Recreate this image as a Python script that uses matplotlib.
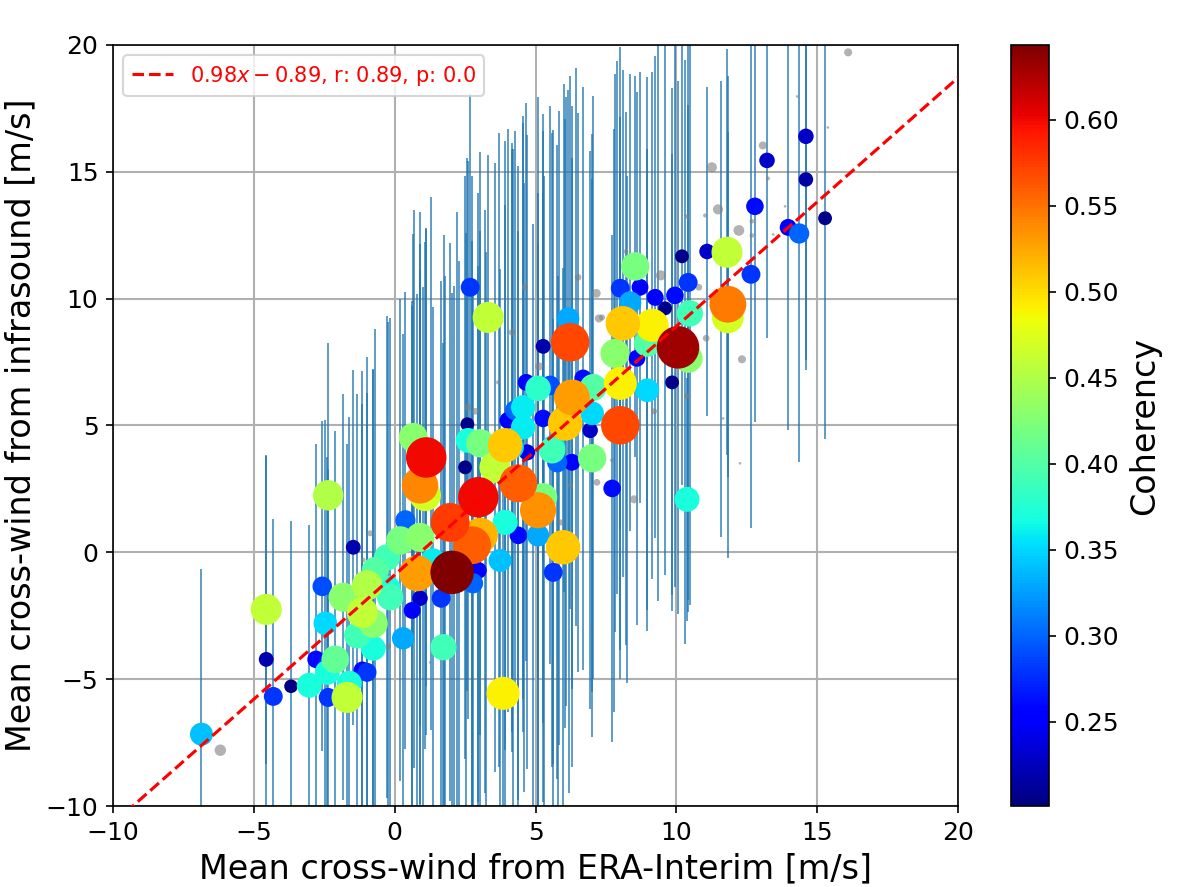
import numpy as np
import matplotlib
matplotlib.use("Agg")
import matplotlib.pyplot as plt

# ---- coloured points (coherency above threshold) ----
era_x = [-6.86, -4.56, -4.56, -4.31, -3.68, -3.03, -2.57, -2.46, -2.36, -2.79,
         -2.11, -2.39, -2.36, -1.69, -1.61, -0.98, -1.15, -1.47, -1.83, -0.98,
         -1.15, -0.76, -1.33, -0.76, -0.69, -0.16, 0.30, 0.62, 0.90, 0.80,
         1.73, 1.65, 2.04, 0.20, 0.38, 0.90, -0.23, 2.78, 2.97, -0.27,
         1.12, 0.90, 1.08, 0.66, 2.97, 1.97, 2.75, 3.04, 4.39, 5.09,
         3.74, 4.39, 3.92, 5.09, 5.63, 5.98, 3.92, 2.50, 5.59, 3.56,
         5.27, 3.04, 2.61, 6.29, 5.77, 7.01, 7.72, 10.38, 4.17, 4.70,
         2.68, 3.32, 5.27, 2.58, 4.67, 5.52, 5.09, 4.56, 4.28, 4.02,
         5.27, 4.56, 5.63, 6.23, 8.10, 9.14, 10.06, 10.48, 11.83, 11.83,
         7.82, 8.60, 8.97, 8.01, 8.97, 9.85, 6.29, 8.01, 6.05, 7.05,
         6.16, 8.01, 8.71, 9.25, 9.95, 9.60, 10.42, 7.01, 6.69, 6.94,
         10.42, 8.36, 8.54, 10.20, 11.09, 11.80, 12.65, 12.79, 13.97, 14.36,
         15.28, 13.22, 14.60, 14.60, 3.85, 1.36,
         # points mostly hidden under larger markers (visible through their bars)
         1.80, 2.30, 2.10, 0.90, 1.30, 1.10, 0.70, 2.75, 3.20, 1.75,
         2.20, 2.55, 3.25, 4.20, 4.60, 4.90, 5.30, 5.80, 6.20, 3.70,
         4.15, 0.60, 1.00, 6.00, 6.45, 7.90, 9.35, 9.85, 10.30, 11.60,
         6.10, 6.50, 7.80, 8.25, 5.85, 8.20]
infra_y = [-7.17, -2.25, -4.22, -5.68, -5.28, -5.24, -1.34, -2.80, 2.25, -4.22,
           -4.22, -4.73, -5.72, -5.72, -5.16, -4.73, -4.65, 0.20, -1.77, -1.30,
           -2.37, -2.80, -3.27, -3.78, -0.71, -1.77, -3.39, -2.29, -1.81, -0.83,
           -3.74, -1.81, -0.79, 0.47, 1.26, 0.59, -1.42, -1.22, -0.71, -0.20,
           3.74, 2.64, 2.25, 4.53, 2.17, 1.18, 0.28, 0.67, 2.72, 1.66,
           -0.32, 0.67, 1.18, 0.67, -0.79, 0.20, 4.22, 3.35, 4.02, 3.35,
           2.17, 4.30, 4.41, 3.55, 3.55, 3.71, 2.52, 2.09, 4.14, 3.94,
           10.45, 9.26, 8.12, 5.05, 6.70, 6.58, 6.46, 5.72, 5.60, 5.20,
           5.28, 4.93, 4.14, 8.28, 9.03, 8.95, 8.08, 9.42, 9.78, 9.26,
           7.84, 7.65, 8.24, 6.66, 6.39, 6.70, 6.11, 5.01, 5.08, 6.50,
           9.22, 10.41, 10.45, 10.05, 10.13, 9.62, 10.64, 5.48, 6.86, 4.81,
           7.65, 9.85, 11.27, 11.67, 11.86, 11.83, 10.96, 13.64, 12.81, 12.57,
           13.17, 15.45, 16.40, 14.70, -5.56, -0.32,
           -0.60, -1.00, -0.50, 3.90, 3.50, 2.80, 2.50, 2.35, 2.00, 1.00,
           1.40, 0.10, 0.85, 2.90, 2.55, 1.45, 1.85, 0.40, 0.00, 4.05,
           4.40, -0.60, -1.05, 8.45, 8.10, 8.85, 9.10, 8.30, 7.90, 9.60,
           5.95, 6.30, 5.20, 4.85, 4.90, 6.85]
coherency = [0.34, 0.46, 0.22, 0.28, 0.201, 0.37, 0.29, 0.35, 0.45, 0.26,
             0.41, 0.37, 0.28, 0.46, 0.37, 0.28, 0.26, 0.22, 0.43, 0.45,
             0.46, 0.43, 0.39, 0.37, 0.40, 0.39, 0.33, 0.25, 0.23, 0.53,
             0.39, 0.28, 0.6435, 0.42, 0.30, 0.43, 0.37, 0.30, 0.25, 0.39,
             0.60, 0.54, 0.47, 0.43, 0.60, 0.575, 0.56, 0.52, 0.56, 0.535,
             0.34, 0.26, 0.37, 0.33, 0.28, 0.51, 0.51, 0.205, 0.39, 0.46,
             0.42, 0.42, 0.37, 0.25, 0.30, 0.42, 0.26, 0.37, 0.35, 0.24,
             0.28, 0.46, 0.22, 0.205, 0.25, 0.29, 0.38, 0.36, 0.30, 0.25,
             0.26, 0.36, 0.36, 0.57, 0.51, 0.49, 0.63, 0.39, 0.545, 0.47,
             0.43, 0.25, 0.40, 0.49, 0.35, 0.205, 0.53, 0.57, 0.51, 0.40,
             0.33, 0.28, 0.25, 0.25, 0.26, 0.205, 0.28, 0.35, 0.26, 0.23,
             0.43, 0.33, 0.42, 0.205, 0.23, 0.46, 0.28, 0.26, 0.25, 0.30,
             0.205, 0.23, 0.23, 0.215, 0.49, 0.36,
             0.24, 0.26, 0.27, 0.25, 0.27, 0.24, 0.26, 0.25, 0.24, 0.26,
             0.25, 0.27, 0.24, 0.26, 0.25, 0.24, 0.27, 0.25, 0.26, 0.24,
             0.26, 0.25, 0.27, 0.24, 0.26, 0.25, 0.24, 0.25, 0.24, 0.24,
             0.26, 0.25, 0.25, 0.24, 0.26, 0.24]
infra_err = [6.5, 6.1, 8.0, 7.0, 6.5, 6.3, 6.5, 8.0, 6.0, 8.5,
             9.0, 8.5, 9.0, 10.0, 10.5, 11.0, 10.5, 7.0, 8.0, 9.0,
             9.5, 10.0, 9.5, 11.0, 9.5, 11.0, 12.0, 12.0, 12.0, 11.0,
             12.0, 12.5, 11.0, 9.5, 9.0, 10.5, 10.5, 12.0, 12.0, 9.5,
             9.0, 9.5, 10.0, 8.0, 12.0, 11.0, 12.0, 12.0, 12.5, 12.5,
             11.5, 12.0, 12.5, 11.5, 10.0, 11.0, 12.0, 11.5, 12.5, 12.0,
             12.0, 11.5, 11.0, 12.0, 12.5, 11.0, 10.0, 4.8, 12.0, 12.5,
             7.6, 6.4, 8.5, 10.5, 11.0, 11.0, 11.5, 11.5, 11.0, 11.5,
             12.0, 12.0, 12.5, 10.5, 10.0, 10.0, 10.5, 11.5, 6.8, 9.5,
             11.0, 10.5, 10.5, 10.5, 9.5, 9.0, 11.5, 10.0, 12.0, 11.5,
             9.0, 9.5, 8.5, 9.5, 11.5, 10.5, 12.5, 11.0, 11.5, 11.0,
             10.0, 9.0, 7.5, 9.0, 6.5, 8.0, 10.0, 8.5, 8.0, 9.0,
             8.7, 7.0, 8.8, 7.5, 8.0, 10.0,
             11.5, 12.5, 11.0, 9.5, 10.5, 10.0, 11.0, 12.5, 11.5, 11.5,
             12.0, 12.5, 11.0, 13.0, 12.0, 11.5, 13.0, 10.5, 9.5, 12.5,
             11.5, 10.5, 11.5, 10.0, 11.0, 10.5, 11.0, 10.0, 11.5, 9.0,
             12.0, 11.0, 11.5, 10.0, 12.5, 10.5]

# ---- grey points (coherency below threshold) ----
grey_x = [-6.19, 16.10, 13.07, 11.26, 11.48, 12.22, 11.02, 14.29, 15.38, 13.86,
          13.25, 12.68, 12.68, 13.44, 8.21, 10.38, 9.45, 7.16, 6.51, 7.25,
          4.17, 10.80, 11.06, 12.33, 4.63, 5.13, 10.38, 9.21, 7.18, 8.50,
          5.91, 6.23, 7.72, 6.29, 2.61, 2.86, 3.67, -0.23, 1.26, -0.87,
          -1.12, -2.50, 12.26, 11.66, 7.36, 2.36]
grey_y = [-7.80, 19.71, 16.04, 15.18, 13.52, 12.69, 13.28, 17.97, 16.75, 13.64,
          14.74, 13.05, 12.49, 12.53, 11.86, 13.24, 10.92, 10.21, 10.84, 9.22,
          8.67, 10.45, 8.44, 7.61, 10.45, 7.33, 6.15, 5.56, 2.76, 2.09,
          1.18, 2.64, 3.63, -1.77, 5.72, 5.56, 6.70, -3.70, -4.34, 0.75,
          -0.30, -3.31, 3.51, 5.28, 9.26, 2.40]
grey_coh = [0.17, 0.12, 0.12, 0.15, 0.15, 0.16, 0.06, 0.04, 0.04, 0.04,
            0.06, 0.07, 0.07, 0.04, 0.07, 0.07, 0.15, 0.13, 0.10, 0.12,
            0.10, 0.10, 0.10, 0.12, 0.09, 0.12, 0.09, 0.09, 0.10, 0.12,
            0.09, 0.07, 0.06, 0.04, 0.10, 0.10, 0.06, 0.09, 0.04, 0.09,
            0.07, 0.07, 0.04, 0.04, 0.09, 0.07]

# ---- regression ----
slope = 0.98
intercept = -0.89
r_value = 0.89
p_value = 0.0

x_ticks = [-10, -5, 0, 5, 10, 15, 20]
y_ticks = [-10, -5, 0, 5, 10, 15, 20]
cb_ticks = [0.25, 0.30, 0.35, 0.40, 0.45, 0.50, 0.55, 0.60]

SIZE_K = 1050.0

W, H = 1182, 887
fig = plt.figure(figsize=(W / 150, H / 150), dpi=150)
ax = fig.add_axes([113 / W, 1 - 806 / H, (958 - 113) / W, (806 - 45) / H])
cax = fig.add_axes([1011 / W, 1 - 806 / H, 38 / W, (806 - 45) / H])

ax.grid(True, color="#b0b0b0", linewidth=1.0, zorder=0)
ax.set_axisbelow(True)

ax.errorbar(era_x, infra_y, yerr=infra_err, fmt="none", ecolor="#1f77b4",
            elinewidth=0.9, alpha=0.75, zorder=1)

gc = np.array(grey_coh)
ax.scatter(grey_x, grey_y, s=SIZE_K * gc ** 2, color="gray", alpha=0.6,
           linewidths=0, zorder=2)

cx = np.array(era_x)
cy = np.array(infra_y)
cc = np.array(coherency)
order = np.argsort(cc, kind="stable")
sc = ax.scatter(cx[order], cy[order], c=cc[order], s=SIZE_K * cc[order] ** 2,
                cmap="jet", vmin=cc.min(), vmax=cc.max(), linewidths=0, zorder=3)

xl = np.array([-10, 20])
ax.plot(xl, slope * xl + intercept, "r--", lw=1.5, zorder=4,
        label=rf"${slope}x - {abs(intercept)}$, r: {r_value}, p: {p_value}")

ax.set_xlim(-10, 20)
ax.set_ylim(-10, 20)
ax.set_xticks(x_ticks)
ax.set_yticks(y_ticks)
ax.tick_params(labelsize=12)
ax.set_xlabel("Mean cross-wind from ERA-Interim [m/s]", fontsize=16)
ax.set_ylabel("Mean cross-wind from infrasound [m/s]", fontsize=16)
leg = ax.legend(loc="upper left", fontsize=10, labelcolor="red")
leg.set_zorder(10)

cb = fig.colorbar(sc, cax=cax, ticks=cb_ticks)
cb.ax.set_yticklabels([f"{t:.2f}" for t in cb_ticks])
cb.ax.tick_params(labelsize=12)
cb.set_label("Coherency", fontsize=16)

fig.savefig("out.png", dpi=150)
